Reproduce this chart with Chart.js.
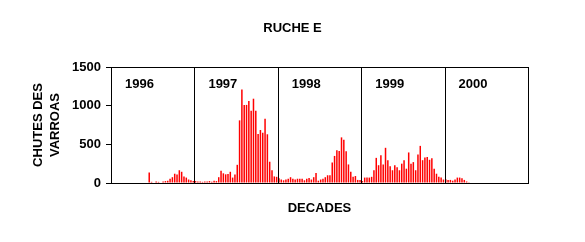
<!DOCTYPE html>
<html>
<head>
<meta charset="utf-8">
<script src="https://cdn.jsdelivr.net/npm/chart.js@4/dist/chart.umd.min.js"></script>
<style>
    body { margin: 0; background: #fff; }
    #wrap { width: 585px; height: 242px; position: relative; }
</style>
</head>
<body>
<div id="wrap"><canvas id="varroaChart"></canvas></div>
<script>
// Chart data
const chartTitle = 'RUCHE E';
const yTitle = ['CHUTES DES', 'VARROAS'];
const xTitle = 'DECADES';
const years = ['1996', '1997', '1998', '1999', '2000'];
const decadesPerYear = 36;
const yTicks = [0, 500, 1000, 1500];

// fallen mites per decade (10-day period), one array per year
const drops1996 = [null, null, null, null, null, null, null, null, null, null, null, null, null, null, null, null,
    135, 15, 8, 20, 15, 8, 20, 25, 30, 55, 75, 120, 110, 165, 145, 85, 70, 45, 35, 25];
const drops1997 = [25, 20, 20, 15, 20, 20, 25, 15, 30, 25, 75, 160, 125, 112, 115, 145, 70, 110,
    235, 810, 1210, 1010, 1010, 1060, 935, 1090, 935, 635, 685, 650, 830, 630, 275, 165, 85, 80];
const drops1998 = [60, 45, 35, 45, 55, 75, 55, 45, 55, 55, 55, 35, 55, 65, 45, 75, 130, 30,
    45, 55, 75, 100, 100, 265, 350, 425, 415, 590, 560, 410, 240, 145, 80, 90, 40, 40];
const drops1999 = [25, 70, 70, 70, 80, 165, 325, 230, 360, 240, 455, 295, 215, 165, 230, 205, 165, 250,
    295, 185, 395, 250, 270, 165, 370, 480, 295, 330, 335, 300, 320, 185, 120, 80, 70, 45];
const drops2000 = [50, 40, 40, 30, 45, 70, 70, 60, 40, 20, 10, null, null, null, null, null, null, null,
    null, null, null, null, null, null, null, null, null, null, null, null, null, null, null, null, null, null];

const drops = [].concat(drops1996, drops1997, drops1998, drops1999, drops2000);
const decades = [];
years.forEach(year => {
    for (let d = 1; d <= decadesPerYear; d++) decades.push(year + '-' + d);
});

const FONT = "'Liberation Sans', Arial, sans-serif";

// Frame, year separators, year labels and main title
const yearMarks = {
    id: 'yearMarks',
    afterDatasetsDraw(chart) {
        const { ctx, chartArea, scales: { x } } = chart;
        const half = (x.getPixelForValue(1) - x.getPixelForValue(0)) / 2;
        ctx.save();
        ctx.strokeStyle = '#000';
        ctx.lineWidth = 1;
        ctx.strokeRect(Math.round(chartArea.left) + 0.5, Math.round(chartArea.top) + 0.5,
            Math.round(chartArea.right - chartArea.left), Math.round(chartArea.bottom - chartArea.top));
        ctx.fillStyle = '#000';
        ctx.font = 'bold 13px ' + FONT;
        ctx.textBaseline = 'middle';
        ctx.textAlign = 'left';
        years.forEach((year, k) => {
            const left = x.getPixelForValue(k * decadesPerYear) - half;
            if (k > 0) {
                const lx = Math.round(left) + 0.5;
                ctx.beginPath();
                ctx.moveTo(lx, chartArea.top);
                ctx.lineTo(lx, chartArea.bottom);
                ctx.stroke();
            }
            ctx.fillText(year, left + 14, chartArea.top + 17);
        });
        ctx.textAlign = 'center';
        ctx.fillText(chartTitle, chart.width / 2, 28);
        ctx.restore();
    }
};

new Chart(document.getElementById('varroaChart'), {
    type: 'bar',
    data: {
        labels: decades,
        datasets: [{
            label: 'Chutes',
            data: drops,
            backgroundColor: '#ff0000',
            barPercentage: 0.65,
            categoryPercentage: 1.0
        }]
    },
    options: {
        responsive: true,
        maintainAspectRatio: false,
        animation: false,
        layout: { padding: { left: 0, right: 57, top: 67, bottom: 0 } },
        plugins: {
            legend: { display: false },
            tooltip: { enabled: false }
        },
        scales: {
            x: {
                afterFit: scale => { scale.height = 59; },
                grid: { display: false },
                border: { display: true, color: '#000' },
                ticks: { display: false, autoSkip: false },
                title: {
                    display: true,
                    text: xTitle,
                    color: '#000',
                    font: { family: FONT, size: 13, weight: 'bold' },
                    padding: { top: 0, bottom: 26 }
                }
            },
            y: {
                min: 0,
                max: 1500,
                afterFit: scale => { scale.width = 111; },
                afterBuildTicks: scale => { scale.ticks = yTicks.map(v => ({ value: v })); },
                grid: { drawOnChartArea: false, drawTicks: true, tickLength: 5, color: '#000' },
                border: { display: true, color: '#000' },
                ticks: {
                    color: '#000',
                    padding: 5,
                    font: { family: FONT, size: 13, weight: 'bold' },
                    callback: value => String(value)
                },
                title: {
                    display: true,
                    text: yTitle,
                    color: '#000',
                    font: { family: FONT, size: 13, weight: 'bold', lineHeight: '17px' },
                    padding: { top: 30, bottom: 0 }
                }
            }
        }
    },
    plugins: [yearMarks]
});
</script>
</body>
</html>
